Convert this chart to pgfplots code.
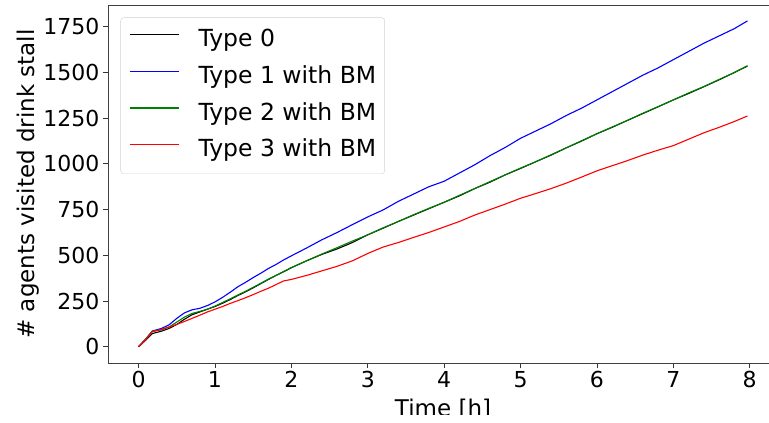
\documentclass[border=0pt]{standalone}
\usepackage{pgfplots}
\pgfplotsset{compat=1.18}
\usepackage{fontspec}
\setmainfont{DejaVu Sans}
\begin{document}
\begin{tikzpicture}
\path[use as bounding box] (-108bp,-60bp) rectangle (661bp,363bp);
\clip (-108bp,-51bp) rectangle (661bp,363bp);
\begin{axis}[
  at={(0,0)}, anchor=south west,
  scale only axis, width=670bp, height=358bp,
  xmin=-0.4, xmax=8.37, ymin=-89, ymax=1869,
  xtick={0,1,...,8}, ytick={0,250,500,750,1000,1250,1500,1750},
  xtick pos=bottom, ytick pos=left,
  tick align=outside, major tick length=5bp,
  tick style={black!80, line width=0.8bp},
  axis line style={black!75, line width=0.8bp},
  /pgf/number format/assume math mode=true,
  /pgf/number format/1000 sep={},
  tick label style={font=\fontsize{22bp}{26bp}\selectfont},
  xlabel={Time [h]}, ylabel={\# agents visited drink stall},
  label style={font=\fontsize{23bp}{27bp}\selectfont},
  xlabel style={at={(axis description cs:0.5,0)}, anchor=north, yshift=-33bp},
  ylabel style={at={(axis description cs:0,0.5)}, anchor=center, yshift=80bp},
  legend style={at={(axis description cs:0,1)}, anchor=north west, xshift=12.5bp, yshift=-12.5bp,
    font=\fontsize{23.5bp}{28bp}\selectfont, draw=black!18, rounded corners=3bp, fill=white, fill opacity=0.85, text opacity=1, draw opacity=1,
    inner xsep=8.5bp, inner ysep=12bp, row sep=14.7bp, column sep=19bp,
    nodes={inner sep=0pt, text height=17bp, text depth=5bp}},
  legend cell align=left,
  legend image code/.code={\draw[#1, line width=1.4bp] (0bp,6bp) -- (49bp,6bp);},
]
\addplot[black, line width=1.1bp] coordinates {
(0,0) (0.1,38) (0.18,72) (0.3,85) (0.4,100) (0.5,122) (0.6,150) (0.7,175) (0.8,190) (0.9,205)
(1.0,220) (1.1,238) (1.2,258) (1.3,280) (1.4,300) (1.5,322) (1.6,345) (1.7,368) (1.8,390) (1.9,410)
(2.0,432) (2.2,470) (2.4,505) (2.6,535) (2.8,570) (3.0,612) (3.2,648) (3.4,685) (3.6,720) (3.8,755)
(4.0,790) (4.2,825) (4.4,865) (4.6,900) (4.8,940) (5.0,975) (5.2,1012) (5.4,1048) (5.6,1088) (5.8,1125)
(6.0,1165) (6.2,1200) (6.4,1238) (6.6,1275) (6.8,1312) (7.0,1350) (7.2,1385) (7.4,1422) (7.6,1460) (7.8,1500) (7.97,1535)};
\addlegendentry{Type 0}
\addplot[blue, line width=1.1bp] coordinates {
(0,0) (0.1,45) (0.18,86) (0.3,100) (0.4,120) (0.5,155) (0.6,185) (0.7,202) (0.8,210) (0.9,225)
(1.0,245) (1.1,270) (1.2,298) (1.3,328) (1.4,352) (1.5,378) (1.6,402) (1.7,428) (1.8,450) (1.9,475)
(2.0,497) (2.2,540) (2.4,585) (2.6,625) (2.8,668) (3.0,710) (3.2,748) (3.4,795) (3.6,835) (3.8,875)
(4.0,905) (4.2,950) (4.4,995) (4.6,1045) (4.8,1090) (5.0,1140) (5.2,1180) (5.4,1220) (5.6,1265) (5.8,1305)
(6.0,1350) (6.2,1395) (6.4,1440) (6.6,1485) (6.8,1525) (7.0,1570) (7.2,1615) (7.4,1660) (7.6,1700) (7.8,1740) (7.97,1782)};
\addlegendentry{Type 1 with BM}
\addplot[green!50!black, line width=1.1bp] coordinates {
(0,0) (0.1,45) (0.18,85) (0.3,92) (0.4,108) (0.5,135) (0.6,162) (0.7,182) (0.8,193) (0.9,205)
(1.0,222) (1.1,242) (1.2,262) (1.3,283) (1.4,303) (1.5,325) (1.6,347) (1.7,370) (1.8,390) (1.9,412)
(2.0,433) (2.2,470) (2.4,507) (2.6,542) (2.8,578) (3.0,612) (3.2,650) (3.4,685) (3.6,722) (3.8,757)
(4.0,790) (4.2,828) (4.4,865) (4.6,903) (4.8,940) (5.0,977) (5.2,1012) (5.4,1050) (5.6,1088) (5.8,1127)
(6.0,1165) (6.2,1202) (6.4,1238) (6.6,1277) (6.8,1313) (7.0,1350) (7.2,1388) (7.4,1423) (7.6,1462) (7.8,1500) (7.97,1537)};
\addlegendentry{Type 2 with BM}
\addplot[red, line width=1.1bp] coordinates {
(0,0) (0.1,42) (0.18,82) (0.3,95) (0.4,108) (0.5,122) (0.6,138) (0.7,155) (0.8,172) (0.9,190)
(1.0,205) (1.1,220) (1.2,237) (1.3,252) (1.4,268) (1.5,285) (1.6,303) (1.7,320) (1.8,340) (1.9,360)
(2.0,368) (2.2,390) (2.4,415) (2.6,440) (2.8,470) (3.0,510) (3.2,545) (3.4,570) (3.6,598) (3.8,625)
(4.0,655) (4.2,685) (4.4,720) (4.6,750) (4.8,780) (5.0,812) (5.2,838) (5.4,865) (5.6,895) (5.8,928)
(6.0,962) (6.2,990) (6.4,1018) (6.6,1048) (6.8,1075) (7.0,1100) (7.2,1135) (7.4,1170) (7.6,1200) (7.8,1232) (7.97,1262)};
\addlegendentry{Type 3 with BM}
\end{axis}
\end{tikzpicture}
\end{document}
